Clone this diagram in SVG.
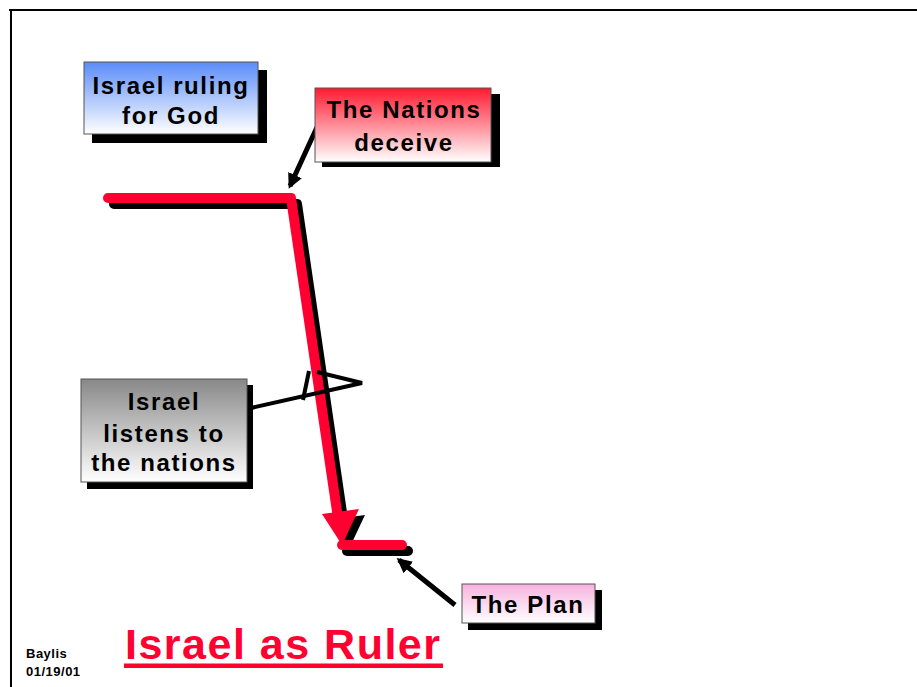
<svg xmlns="http://www.w3.org/2000/svg" width="917" height="687" viewBox="0 0 917 687">
<defs>
<linearGradient id="gBlue" x1="0" y1="0" x2="0" y2="1"><stop offset="0" stop-color="#5a8cf8"/><stop offset="1" stop-color="#ffffff"/></linearGradient>
<linearGradient id="gRed" x1="0" y1="0" x2="0" y2="1"><stop offset="0" stop-color="#ff1a30"/><stop offset="1" stop-color="#ffffff"/></linearGradient>
<linearGradient id="gGray" x1="0" y1="0" x2="0" y2="1"><stop offset="0" stop-color="#888888"/><stop offset="1" stop-color="#ffffff"/></linearGradient>
<linearGradient id="gPink" x1="0" y1="0" x2="0" y2="1"><stop offset="0" stop-color="#f7b2de"/><stop offset="1" stop-color="#ffffff"/></linearGradient>
<marker id="ah" viewBox="0 0 10 10" refX="8" refY="5" markerWidth="3" markerHeight="3" orient="auto" markerUnits="strokeWidth"><path d="M0,0 L10,5 L0,10 z" fill="#000"/></marker>
</defs>
<style>
.shadow{fill:#000}
.box{stroke:#555;stroke-width:1}
.lbl{font-family:"Liberation Sans",Arial,sans-serif;font-weight:bold;font-size:24px;letter-spacing:1.6px;fill:#000;text-anchor:middle}
.red{stroke:#ff0030;stroke-width:10;fill:none;stroke-linecap:round;stroke-linejoin:round}
.sh{stroke:#000;stroke-width:10;fill:none;stroke-linecap:round;stroke-linejoin:round}
.call{stroke:#000;stroke-width:4;fill:none;stroke-linejoin:miter}
.arr{stroke:#000;stroke-width:5;fill:none}
</style>
<rect width="917" height="687" fill="#fff"/>
<g id="border" stroke="#000" stroke-width="2" fill="none">
<line x1="9" y1="10" x2="917" y2="10"/>
<line x1="11" y1="10" x2="11" y2="687"/>
</g>
<g id="connectors">
<g id="path-shadow">
<polyline class="sh" points="114,204 297,204 346,540"/>
<polygon points="328,520 365,515 348,551" fill="#000"/>
<line class="sh" x1="347" y1="551" x2="408" y2="551"/>
</g>
<g id="path-red">
<polyline class="red" points="108,198 291,198 338,518"/>
<polygon points="322,514 359,509 342,545" fill="#ff0030"/>
<line class="red" x1="342" y1="545" x2="402" y2="545"/>
</g>
<line class="arr" x1="318" y1="125" x2="290" y2="186" marker-end="url(#ah)"/>
<line class="arr" x1="455" y1="605" x2="399" y2="560" marker-end="url(#ah)"/>
<polyline class="call" points="233,412 362,383 317,372"/>
<line class="call" x1="303" y1="400" x2="309" y2="371"/>
</g>
<g id="node-ruling">
<rect class="shadow" x="92" y="70" width="175" height="73"/>
<rect class="box" x="84" y="62" width="174" height="72" fill="url(#gBlue)"/>
<text class="lbl" x="171" y="94">Israel ruling</text>
<text class="lbl" x="171" y="124">for God</text>
</g>
<g id="node-nations">
<rect class="shadow" x="322" y="94" width="178" height="73"/>
<rect class="box" x="315" y="88" width="176" height="74" fill="url(#gRed)"/>
<text class="lbl" x="404" y="118">The Nations</text>
<text class="lbl" x="404" y="151">deceive</text>
</g>
<g id="node-listens">
<rect class="shadow" x="87" y="385" width="166" height="104"/>
<rect class="box" x="81" y="379" width="166" height="103" fill="url(#gGray)"/>
<text class="lbl" x="164" y="410">Israel</text>
<text class="lbl" x="164" y="442">listens to</text>
<text class="lbl" x="164" y="471">the nations</text>
</g>
<g id="node-plan">
<rect class="shadow" x="468" y="590" width="134" height="40"/>
<rect class="box" x="462" y="584" width="133" height="39" fill="url(#gPink)"/>
<text class="lbl" x="528" y="613">The Plan</text>
</g>
<g id="title">
<text x="125" y="659" font-family="'Liberation Sans',Arial,sans-serif" font-weight="bold" font-size="43" fill="#ff0030" textLength="315" lengthAdjust="spacing">Israel as Ruler</text>
<rect x="124" y="663.5" width="319" height="4.5" fill="#ff0030"/>
</g>
<g id="footer" font-family="'Liberation Sans',Arial,sans-serif" font-weight="bold" font-size="13" fill="#000">
<text x="26" y="658" letter-spacing="0.5">Baylis</text>
<text x="26" y="676" letter-spacing="0.5">01/19/01</text>
</g>
</svg>
